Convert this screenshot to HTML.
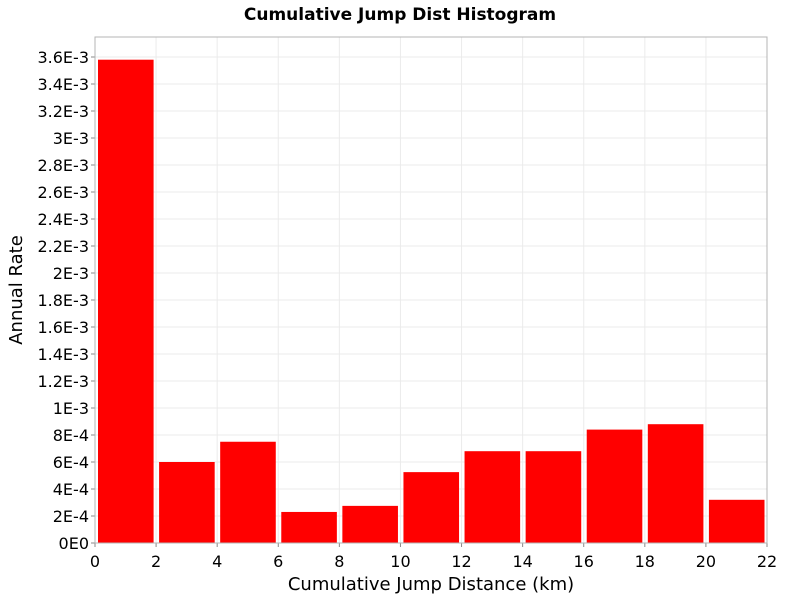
<!DOCTYPE html>
<html><head><meta charset="utf-8"><style>
body{margin:0;background:#fff;font-family:"Liberation Sans","DejaVu Sans",sans-serif}
</style></head><body>
<svg id="chart" width="800" height="600" xmlns="http://www.w3.org/2000/svg" font-family="DejaVu Sans, Liberation Sans, sans-serif">
<rect width="800" height="600" fill="#fff"/>
<text x="400" y="20" text-anchor="middle" font-size="17" font-weight="bold">Cumulative Jump Dist Histogram</text>
<g id="grid"></g><g id="bars"></g><g id="axes"></g>
<text x="431" y="590" text-anchor="middle" font-size="18">Cumulative Jump Distance (km)</text>
<text transform="translate(22,290) rotate(-90)" text-anchor="middle" font-size="18">Annual Rate</text>
</svg>
<script>
const binStarts=[0,2,4,6,8,10,12,14,16,18,20];
const rates=[3.58e-3,6.0e-4,7.5e-4,2.3e-4,2.75e-4,5.25e-4,6.8e-4,6.8e-4,8.4e-4,8.8e-4,3.2e-4];
const xTicks=[0,2,4,6,8,10,12,14,16,18,20,22];
const yTicks=[0,2e-4,4e-4,6e-4,8e-4,1e-3,1.2e-3,1.4e-3,1.6e-3,1.8e-3,2e-3,2.2e-3,2.4e-3,2.6e-3,2.8e-3,3e-3,3.2e-3,3.4e-3,3.6e-3];
const yLabels=["0E0","2E-4","4E-4","6E-4","8E-4","1E-3","1.2E-3","1.4E-3","1.6E-3","1.8E-3","2E-3","2.2E-3","2.4E-3","2.6E-3","2.8E-3","3E-3","3.2E-3","3.4E-3","3.6E-3"];
const binWidth=2;
const L=95,R=767,T=37,B=543;
const xs=v=>L+(R-L)*v/22;
const ys=v=>B-(B-57)*v/3.6e-3;
const NS="http://www.w3.org/2000/svg";
function mk(tag,attrs,parent){const e=document.createElementNS(NS,tag);for(const k in attrs)e.setAttribute(k,attrs[k]);document.getElementById(parent).appendChild(e);return e;}
xTicks.forEach(t=>{
 const g=mk('line',{x1:xs(t),x2:xs(t),y1:T,y2:B,stroke:'#ebebeb'},'grid');
 
 
 const tk=mk('line',{x1:xs(t),x2:xs(t),y1:B,y2:B+4,stroke:'#888'},'axes');
 
 
 const tx=mk('text',{x:xs(t),y:B+24,'text-anchor':'middle','font-size':16},'axes');
 tx.textContent=t;
 
 
});
yTicks.forEach((t,i)=>{
 const g=mk('line',{x1:L,x2:R,y1:ys(t),y2:ys(t),stroke:'#ebebeb'},'grid');
 
 
 const tk=mk('line',{x1:L-4,x2:L,y1:ys(t),y2:ys(t),stroke:'#888'},'axes');
 
 
 const tx=mk('text',{x:L-6,y:ys(t)+6,'text-anchor':'end','font-size':16},'axes');
 tx.textContent=yLabels[i];
 
 
});
binStarts.forEach((s,i)=>{
 const x0=xs(s)+3,x1=xs(s+binWidth)-2.5;
 const r=mk('rect',{x:x0,y:ys(rates[i]),width:x1-x0,height:B-ys(rates[i]),fill:'#ff0000'},'bars');
 
 
});
const fr=mk('rect',{x:L,y:T,width:R-L,height:B-T,fill:'none',stroke:'#b4b4b4'},'axes');


</script>
</body></html>
